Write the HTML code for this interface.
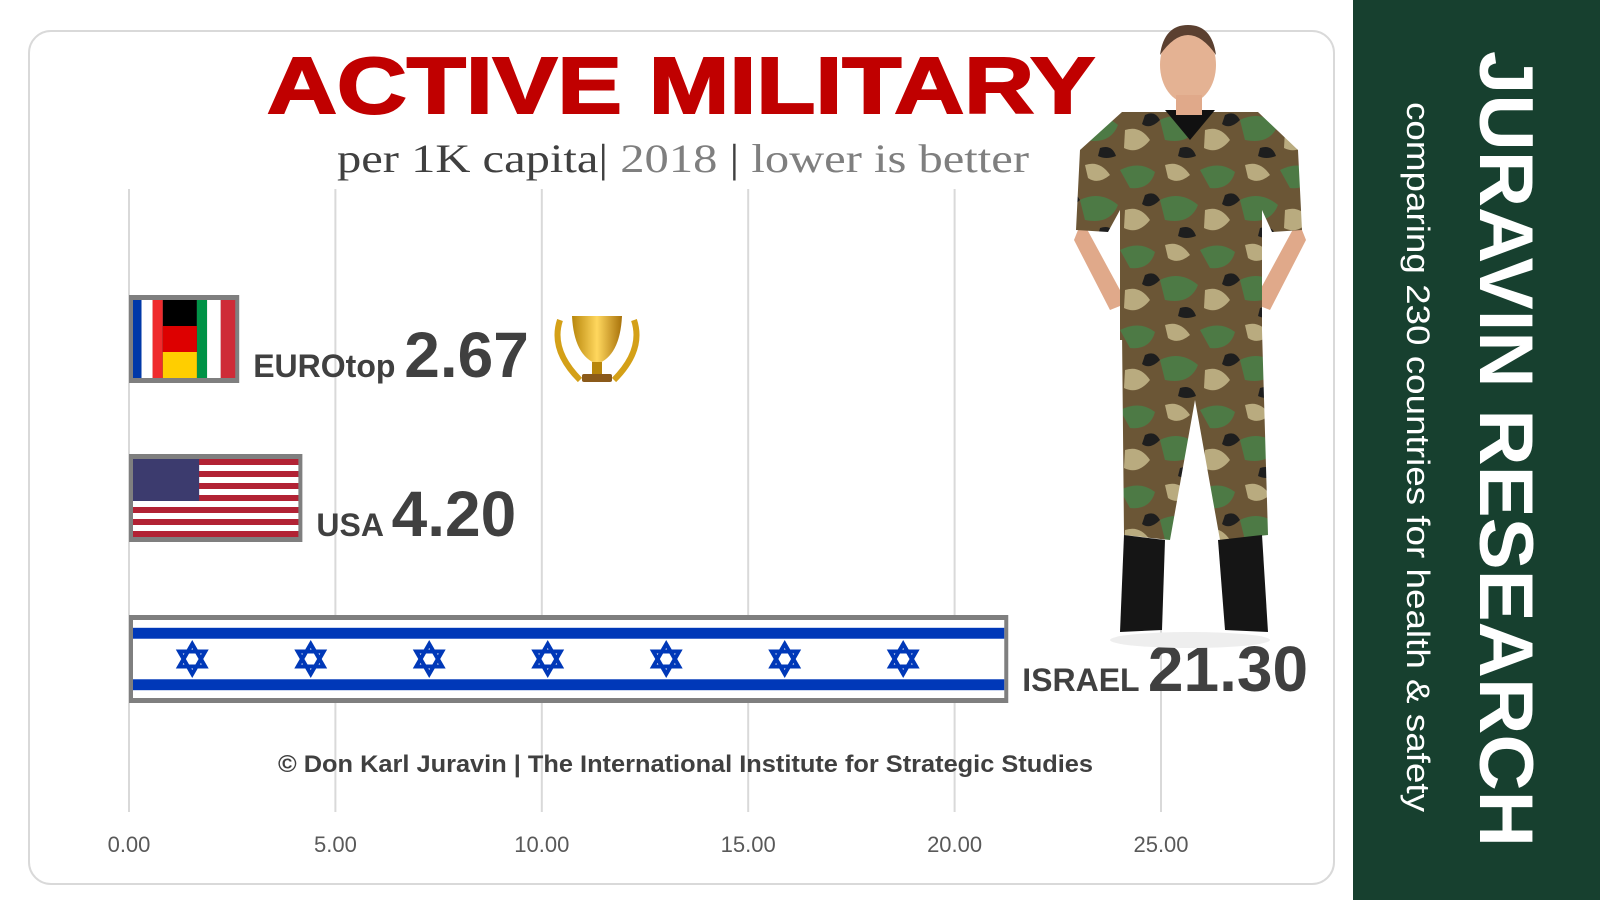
<!DOCTYPE html>
<html><head><meta charset="utf-8"><style>
html,body{margin:0;padding:0;background:#fff;width:1600px;height:900px;overflow:hidden}
svg{display:block}
</style></head><body>
<svg id="chart" width="1600" height="900" viewBox="0 0 1600 900" xmlns="http://www.w3.org/2000/svg" font-family="'Liberation Sans', sans-serif">
<defs>
<pattern id="camo" width="80" height="80" patternUnits="userSpaceOnUse">
<rect width="80" height="80" fill="#6b5636"/>
<path d="M0 10 Q20 0 35 12 Q30 30 10 28 Z" fill="#4d7a45"/>
<path d="M40 40 Q60 30 78 45 Q70 65 45 60 Z" fill="#4d7a45"/>
<path d="M45 5 Q60 0 70 15 Q58 25 48 18 Z" fill="#b9ab7f"/>
<path d="M5 50 Q20 45 30 60 Q18 75 4 68 Z" fill="#b9ab7f"/>
<path d="M25 35 Q35 30 40 40 Q30 50 22 44 Z" fill="#1e1e1e"/>
<path d="M60 68 Q72 64 76 76 Q66 80 58 76 Z" fill="#1e1e1e"/>
</pattern>
<linearGradient id="gold" x1="0" y1="0" x2="1" y2="0"><stop offset="0" stop-color="#b8860b"/><stop offset="0.5" stop-color="#ffd75e"/><stop offset="1" stop-color="#a8720a"/></linearGradient>
</defs>
<rect width="1600" height="900" fill="#fff"/>
<rect x="29" y="31" width="1305" height="853" rx="22" fill="#fff" stroke="#d9d9d9" stroke-width="2"/>
<g id="grid"></g>
<g id="ticks"></g>
<text x="681" y="113" text-anchor="middle" font-size="80" font-weight="900" fill="#c00000" textLength="828" lengthAdjust="spacingAndGlyphs" stroke="#c00000" stroke-width="2">ACTIVE MILITARY</text>
<text x="337" y="172" font-family="'Liberation Serif', serif" font-size="40" fill="#404040" textLength="692" lengthAdjust="spacingAndGlyphs">per 1K capita| <tspan fill="#7f7f7f">2018</tspan> | <tspan fill="#7f7f7f">lower is better</tspan></text>
<g id="bars"></g>
<g>
<path d="M572 316 h50 q-2 40 -25 48 q-23 -8 -25 -48z" fill="url(#gold)"/>
<rect x="592" y="362" width="10" height="14" fill="#b8860b"/>
<rect x="582" y="374" width="30" height="8" rx="2" fill="#8b5a1a"/>
<path d="M560 320 q-10 30 20 60" stroke="#d4a017" stroke-width="6" fill="none"/>
<path d="M634 320 q10 30 -20 60" stroke="#d4a017" stroke-width="6" fill="none"/>
</g>
<g>
<ellipse cx="1190" cy="640" rx="80" ry="8" fill="#eee"/>
<path d="M1122 330 L1262 330 L1268 535 L1220 540 L1195 400 L1170 540 L1124 535 Z" fill="url(#camo)"/>
<path d="M1082 220 L1074 240 L1110 310 L1135 300 L1120 290 Z" fill="#e0a98a"/>
<path d="M1298 220 L1306 240 L1270 310 L1245 300 L1260 290 Z" fill="#e0a98a"/>
<path d="M1122 112 L1258 112 L1298 150 L1302 230 L1272 232 L1262 210 L1262 340 L1120 340 L1120 210 L1108 232 L1076 230 L1080 150 Z" fill="url(#camo)"/>
<path d="M1165 110 L1215 110 L1190 140 Z" fill="#111"/>
<ellipse cx="1188" cy="65" rx="28" ry="38" fill="#e4b293"/>
<path d="M1160 55 q28 -40 56 0 q-4 -30 -28 -30 q-24 0 -28 30z" fill="#5b4030"/>
<rect x="1176" y="95" width="26" height="20" fill="#e0a98a"/>
<path d="M1124 535 L1165 540 L1162 630 L1120 632 Z" fill="#151515"/>
<path d="M1218 540 L1262 535 L1268 632 L1225 630 Z" fill="#151515"/>
</g>
<text x="278" y="772" font-size="24" font-weight="bold" fill="#404040" textLength="815" lengthAdjust="spacingAndGlyphs">© Don Karl Juravin |  The International Institute for Strategic Studies</text>
<rect x="1353" y="0" width="247" height="900" fill="#17402f"/>
<text transform="translate(1480,51) rotate(90)" font-size="76" font-weight="bold" fill="#fff" textLength="796" lengthAdjust="spacingAndGlyphs">JURAVIN RESEARCH</text>
<text transform="translate(1407,102) rotate(90)" font-size="32" fill="#fff" textLength="710" lengthAdjust="spacingAndGlyphs">comparing 230 countries for health &amp; safety</text>
</svg>
<script>
const categories = ["EUROtop", "USA", "ISRAEL"];
const values = [2.67, 4.20, 21.30];
const valueLabels = ["2.67", "4.20", "21.30"];
const tickValues = [0, 5, 10, 15, 20, 25];
const tickLabels = ["0.00", "5.00", "10.00", "15.00", "20.00", "25.00"];

const NS = "http://www.w3.org/2000/svg";
const x0 = 129, pxPerUnit = (1161 - 129) / 25;
const xScale = v => x0 + v * pxPerUnit;
const rowTop = [295, 454, 615], rowH = 88;
function mk(tag, attrs, parent){const e=document.createElementNS(NS,tag);for(const k in attrs)e.setAttribute(k,attrs[k]);parent.appendChild(e);return e;}
const grid=document.getElementById('grid'), ticks=document.getElementById('ticks'), bars=document.getElementById('bars');
tickValues.forEach((t,i)=>{
  const l=mk('line',{x1:xScale(t),x2:xScale(t),y1:189,y2:812,stroke:'#d9d9d9','stroke-width':2},grid);
  
  
  const tx=mk('text',{x:xScale(t),y:852,'text-anchor':'middle','font-size':22,fill:'#595959'},ticks);
  tx.textContent=tickLabels[i];
  
  
});
function flag(i,g,x,y,w,h){
  if(i===0){
    const s=w/12;
    [['#0038a8',0,1],['#fff',1,1.3],['#ef2b2d',2.3,1.2],['#000',3.5,4],['#009246',7.5,1.2],['#fff',8.7,1.6],['#ce2b37',10.3,1.7]].forEach(c=>mk('rect',{x:x+c[1]*s,y:y,width:c[2]*s,height:h,fill:c[0]},g));
    mk('rect',{x:x+3.5*s,y:y+h/3,width:4*s,height:h/3,fill:'#dd0000'},g);
    mk('rect',{x:x+3.5*s,y:y+2*h/3,width:4*s,height:h/3,fill:'#ffce00'},g);
  } else if(i===1){
    for(let k=0;k<13;k++)mk('rect',{x:x,y:y+k*h/13,width:w,height:h/13,fill:k%2?'#fff':'#b22234'},g);
    mk('rect',{x:x,y:y,width:w*0.4,height:h*7/13,fill:'#3c3b6e'},g);
  } else {
    mk('rect',{x:x,y:y,width:w,height:h,fill:'#fff'},g);
    mk('rect',{x:x,y:y+h*0.1,width:w,height:h*0.14,fill:'#0038b8'},g);
    mk('rect',{x:x,y:y+h*0.76,width:w,height:h*0.14,fill:'#0038b8'},g);
    for(let k=0;k<7;k++){
      const cx=x+w*(0.068+k*0.136), cy=y+h/2, r=15;
      const t1=[0,120,240].map(a=>[cx+r*Math.sin(a*Math.PI/180),cy-r*Math.cos(a*Math.PI/180)].join(',')).join(' ');
      const t2=[60,180,300].map(a=>[cx+r*Math.sin(a*Math.PI/180),cy-r*Math.cos(a*Math.PI/180)].join(',')).join(' ');
      mk('polygon',{points:t1,fill:'none',stroke:'#0038b8','stroke-width':4},g);
      mk('polygon',{points:t2,fill:'none',stroke:'#0038b8','stroke-width':4},g);
    }
  }
}
categories.forEach((c,i)=>{
  const g=mk('g',{},bars);
  
  
  const x=xScale(0), w=xScale(values[i])-x, y=rowTop[i];
  mk('rect',{x:x,y:y,width:w,height:rowH,fill:'#7f7f7f'},g);
  flag(i,g,x+4,y+5,w-8,rowH-10);
  const lbl=mk('text',{x:xScale(values[i])+14,y:y+rowH-(i===2?12:6),'font-size':32,'font-weight':'bold',fill:'#404040'},bars);
  lbl.innerHTML=c+' <tspan font-size="64">'+valueLabels[i]+'</tspan>';
  
  
});
</script>
</body></html>
